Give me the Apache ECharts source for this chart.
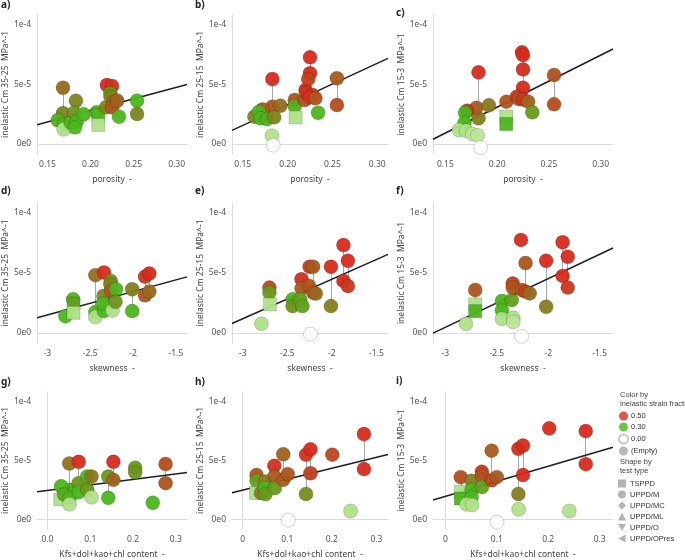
<!DOCTYPE html>
<html>
<head>
<meta charset="utf-8">
<script src="https://cdn.jsdelivr.net/npm/echarts@6/dist/echarts.min.js"></script>
<style>
html, body { margin: 0; padding: 0; background: #fff; }
#chart { width: 685px; height: 560px; }
</style>
</head>
<body>
<div id="chart"></div>
<script>
// point = [x, inelastic Cm (MPa^-1), inelastic strain fraction, 1 = TSPPD (square)]
// row 1: porosity
const ptsA = [
  [0.168, 4.73e-5, 0.41], [0.168, 2.58e-5, 0.37], [0.162, 2.00e-5, 0.31], [0.169, 1.62e-5, 0.30],
  [0.1688, 1.23e-5, 0.15], [0.177, 1.80e-5, 0.30], [0.183, 3.64e-5, 0.37], [0.181, 2.63e-5, 0.35],
  [0.184, 1.88e-5, 0.30], [0.182, 1.40e-5, 0.30], [0.192, 2.50e-5, 0.30], [0.207, 2.66e-5, 0.31],
  [0.209, 2.44e-5, 0.30, 1], [0.209, 1.60e-5, 0.15, 1], [0.218, 3.08e-5, 0.37], [0.219, 4.96e-5, 0.50],
  [0.225, 4.87e-5, 0.49], [0.223, 4.26e-5, 0.34], [0.2232, 3.98e-5, 0.37], [0.227, 3.56e-5, 0.42],
  [0.225, 3.08e-5, 0.44], [0.231, 3.64e-5, 0.42], [0.233, 2.30e-5, 0.30], [0.254, 3.64e-5, 0.30],
  [0.254, 2.52e-5, 0.37]
];
const ptsB = [
  [0.183, 5.46e-5, 0.50], [0.183, 3.14e-5, 0.44], [0.172, 2.90e-5, 0.43], [0.192, 3.22e-5, 0.40],
  [0.163, 2.30e-5, 0.37], [0.168, 2.70e-5, 0.30], [0.170, 2.16e-5, 0.30], [0.177, 2.10e-5, 0.31],
  [0.185, 2.24e-5, 0.37], [0.1825, 0.70e-5, 0.15], [0.184, -0.10e-5, 0.0], [0.208, 3.70e-5, 0.44],
  [0.208, 3.20e-5, 0.31], [0.209, 2.24e-5, 0.15, 1], [0.219, 3.70e-5, 0.43], [0.220, 4.54e-5, 0.49],
  [0.225, 7.28e-5, 0.50], [0.225, 5.94e-5, 0.50], [0.223, 5.46e-5, 0.47], [0.221, 4.31e-5, 0.49],
  [0.228, 4.12e-5, 0.47], [0.225, 3.92e-5, 0.49], [0.231, 3.84e-5, 0.44], [0.234, 2.63e-5, 0.30],
  [0.255, 5.52e-5, 0.43], [0.255, 3.28e-5, 0.45]
];
const ptsC = [
  [0.182, 6.02e-5, 0.50], [0.182, 2.16e-5, 0.38], [0.180, 3.05e-5, 0.43], [0.171, 2.80e-5, 0.49],
  [0.192, 3.25e-5, 0.39], [0.169, 2.63e-5, 0.30], [0.1685, 1.80e-5, 0.30], [0.163, 1.18e-5, 0.15],
  [0.170, 1.12e-5, 0.15], [0.176, 0.84e-5, 0.13], [0.181, 0.73e-5, 0.13], [0.184, -0.30e-5, 0.0],
  [0.209, 3.56e-5, 0.44], [0.2088, 2.30e-5, 0.15, 1], [0.2088, 1.68e-5, 0.30, 1], [0.224, 7.70e-5, 0.50],
  [0.225, 7.48e-5, 0.50], [0.225, 6.27e-5, 0.50], [0.225, 4.73e-5, 0.50], [0.219, 3.98e-5, 0.48],
  [0.221, 3.78e-5, 0.44], [0.225, 3.75e-5, 0.49], [0.230, 3.56e-5, 0.42], [0.234, 2.66e-5, 0.34],
  [0.255, 5.80e-5, 0.44], [0.255, 3.33e-5, 0.45]
];
// row 2: skewness
const ptsD = [
  [-2.79, 1.40e-5, 0.30], [-2.70, 2.80e-5, 0.30], [-2.695, 2.45e-5, 0.33, 1], [-2.695, 1.68e-5, 0.15, 1],
  [-2.44, 4.82e-5, 0.40], [-2.44, 1.74e-5, 0.30], [-2.44, 1.32e-5, 0.15], [-2.34, 5.04e-5, 0.50],
  [-2.34, 1.82e-5, 0.30], [-2.345, 3.08e-5, 0.37], [-2.35, 2.46e-5, 0.30], [-2.26, 4.34e-5, 0.35],
  [-2.265, 4.06e-5, 0.37], [-2.255, 3.50e-5, 0.43], [-2.20, 3.64e-5, 0.30], [-2.24, 1.88e-5, 0.15],
  [-2.205, 2.60e-5, 0.35], [-2.01, 3.64e-5, 0.38], [-2.01, 1.82e-5, 0.30], [-1.86, 4.70e-5, 0.48],
  [-1.81, 4.96e-5, 0.50], [-1.86, 3.14e-5, 0.44], [-1.81, 3.45e-5, 0.41]
];
const ptsE = [
  [-2.79, 0.76e-5, 0.15], [-2.70, 3.78e-5, 0.45], [-2.70, 3.36e-5, 0.34], [-2.695, 2.38e-5, 0.15, 1],
  [-2.44, 2.80e-5, 0.30], [-2.44, 2.24e-5, 0.35], [-2.34, 4.48e-5, 0.49], [-2.34, 3.72e-5, 0.43],
  [-2.355, 2.80e-5, 0.33], [-2.33, 2.24e-5, 0.33], [-2.25, 5.52e-5, 0.47], [-2.21, 5.52e-5, 0.43],
  [-2.255, 3.92e-5, 0.44], [-2.21, 3.36e-5, 0.44], [-2.18, 3.28e-5, 0.41], [-2.24, -0.10e-5, 0.0],
  [-2.01, 5.52e-5, 0.50], [-2.01, 2.24e-5, 0.38], [-1.87, 7.34e-5, 0.50], [-1.82, 6.02e-5, 0.50],
  [-1.87, 4.34e-5, 0.50], [-1.82, 3.92e-5, 0.48]
];
const ptsF = [
  [-2.80, 0.76e-5, 0.15], [-2.71, 3.58e-5, 0.44], [-2.71, 2.38e-5, 0.15, 1], [-2.71, 1.82e-5, 0.30, 1],
  [-2.45, 2.66e-5, 0.30], [-2.45, 1.88e-5, 0.30], [-2.45, 1.18e-5, 0.15], [-2.355, 2.74e-5, 0.33],
  [-2.34, 1.26e-5, 0.15], [-2.34, 0.92e-5, 0.13], [-2.345, 4.12e-5, 0.47], [-2.345, 3.78e-5, 0.44],
  [-2.265, 7.76e-5, 0.50], [-2.258, -0.28e-5, 0.0], [-2.22, 5.83e-5, 0.44], [-2.255, 3.58e-5, 0.44],
  [-2.22, 3.45e-5, 0.47], [-2.18, 3.30e-5, 0.41], [-2.02, 6.02e-5, 0.50], [-2.02, 2.18e-5, 0.38],
  [-1.86, 7.56e-5, 0.50], [-1.86, 4.76e-5, 0.50], [-1.81, 6.36e-5, 0.50], [-1.81, 3.78e-5, 0.48]
];
// row 3: Kfs+dol+kao+chl content
const ptsG = [
  [0.051, 4.75e-5, 0.40], [0.073, 4.89e-5, 0.50], [0.051, 2.50e-5, 0.30], [0.073, 3.07e-5, 0.35],
  [0.032, 2.80e-5, 0.30], [0.030, 1.68e-5, 0.15, 1], [0.039, 2.10e-5, 0.32], [0.052, 1.82e-5, 0.30],
  [0.0515, 1.26e-5, 0.15], [0.0735, 2.32e-5, 0.30], [0.093, 3.63e-5, 0.30], [0.093, 2.50e-5, 0.34],
  [0.103, 3.63e-5, 0.39], [0.103, 1.87e-5, 0.15], [0.142, 3.63e-5, 0.34], [0.142, 1.82e-5, 0.30],
  [0.154, 4.89e-5, 0.50], [0.154, 3.35e-5, 0.42], [0.205, 4.39e-5, 0.34], [0.205, 4.00e-5, 0.35],
  [0.246, 1.40e-5, 0.30], [0.276, 4.70e-5, 0.45], [0.276, 3.07e-5, 0.44]
];
const ptsH = [
  [0.031, 3.77e-5, 0.44], [0.031, 3.27e-5, 0.33], [0.030, 2.23e-5, 0.15, 1], [0.041, 2.23e-5, 0.38],
  [0.050, 3.20e-5, 0.38], [0.050, 2.65e-5, 0.30], [0.051, 2.15e-5, 0.34], [0.071, 4.55e-5, 0.49],
  [0.071, 3.63e-5, 0.43], [0.072, 2.65e-5, 0.34], [0.091, 5.53e-5, 0.42], [0.091, 3.35e-5, 0.43],
  [0.101, 3.83e-5, 0.44], [0.102, -0.08e-5, 0.0], [0.142, 5.50e-5, 0.49], [0.152, 5.95e-5, 0.50],
  [0.152, 3.91e-5, 0.47], [0.142, 2.15e-5, 0.36], [0.201, 5.50e-5, 0.46], [0.242, 0.70e-5, 0.15],
  [0.272, 7.26e-5, 0.50], [0.272, 4.27e-5, 0.50]
];
const ptsI = [
  [0.030, 3.58e-5, 0.45], [0.030, 2.32e-5, 0.15, 1], [0.030, 1.76e-5, 0.30, 1], [0.051, 3.27e-5, 0.38],
  [0.051, 2.51e-5, 0.30], [0.051, 1.87e-5, 0.30], [0.041, 1.26e-5, 0.15], [0.052, 1.20e-5, 0.15],
  [0.071, 4.05e-5, 0.48], [0.071, 3.72e-5, 0.44], [0.071, 2.74e-5, 0.33], [0.090, 5.84e-5, 0.43],
  [0.090, 3.32e-5, 0.46], [0.100, 3.58e-5, 0.43], [0.1005, -0.25e-5, 0.0], [0.142, 6.00e-5, 0.49],
  [0.151, 6.28e-5, 0.50], [0.151, 3.77e-5, 0.50], [0.142, 2.15e-5, 0.38], [0.1425, 0.84e-5, 0.15],
  [0.202, 7.74e-5, 0.50], [0.241, 0.70e-5, 0.15], [0.273, 7.51e-5, 0.50], [0.273, 4.69e-5, 0.50]
];

// regression lines [intercept, slope]
const fitA = [-1.062e-5, 1.943e-4];
const fitB = [-3.66e-5, 3.48e-4];
const fitC = [-5.62e-5, 4.36e-4];
const fitD = [7.35e-5, 1.95e-5];
const fitE = [11.08e-5, 3.30e-5];
const fitF = [12.65e-5, 4.06e-5];
const fitG = [2.45e-5, 4.68e-5];
const fitH = [2.47e-5, 9.31e-5];
const fitI = [1.94e-5, 1.284e-4];

const porosityTicks = [0.15, 0.20, 0.25, 0.30];
const skewTicks = [-3, -2.5, -2, -1.5];
const contentTicks = [0, 0.1, 0.2, 0.3];
const cmTicks = [0, 5e-5, 1e-4];

const cmNames = ['inelastic Cm 35-25  MPa^-1', 'inelastic Cm 25-15  MPa^-1', 'inelastic Cm 15-3  MPa^-1'];
const colorNames = ['0.50', '0.30', '0.00', '(Empty)'];
const shapeNames = ['TSPPD', 'UPPD/M', 'UPPD/MC', 'UPPD/ML', 'UPPD/O', 'UPPD/OPres'];
const panelLetters = ['a)', 'b)', 'c)', 'd)', 'e)', 'f)', 'g)', 'h)', 'i)'];

const panels = [ptsA, ptsB, ptsC, ptsD, ptsE, ptsF, ptsG, ptsH, ptsI];
const fits = [fitA, fitB, fitC, fitD, fitE, fitF, fitG, fitH, fitI];

const FONT = 'Noto Sans';
const LEG_FONT = 'Liberation Sans';
const cols = [{ left: 36, width: 151, gap: 24 }, { left: 232, width: 156, gap: 27 }, { left: 433, width: 180, gap: 27 }];
const rows = [{ top: 15, height: 139 }, { top: 203, height: 140 }, { top: 392, height: 140 }];
const letterPos = [[1, 0], [195, 0], [396, 8], [1, 186], [195, 186], [396, 186], [1, 377], [195, 377], [396, 376]];

const rowX = [
  { name: 'porosity  -', min: 0.138, max: 0.312, ticks: porosityTicks, fmt: (v, c) => v.toFixed(2) },
  { name: 'skewness  -', min: -3.12, max: -1.37, ticks: skewTicks, fmt: (v, c) => String(v) },
  { name: 'Kfs+dol+kao+chl content  -', min: -0.024, max: 0.326, ticks: contentTicks,
    fmt: (v, c) => c === 0 ? v.toFixed(1) : String(v) }
];

const grids = [], xAxes = [], yAxes = [], series = [], scatterIdx = [], graphics = [];

panels.forEach((pts, i) => {
  const r = Math.floor(i / 3), c = i % 3;
  const rx = rowX[r];
  grids.push({ left: cols[c].left, width: cols[c].width, top: rows[r].top, height: rows[r].height });
  xAxes.push({
    gridIndex: i, type: 'value', min: rx.min, max: rx.max,
    name: rx.name, nameLocation: 'middle', nameGap: 21,
    nameTextStyle: { fontSize: 8.5, color: '#444', fontFamily: FONT },
    axisLine: { show: true, lineStyle: { color: '#dcdcdc' } },
    axisTick: { show: false }, splitLine: { show: false },
    axisLabel: { customValues: rx.ticks, fontSize: 8.5, color: '#555', margin: 6, fontFamily: FONT,
      formatter: v => rx.fmt(v, c) }
  });
  yAxes.push({
    gridIndex: i, type: 'value', min: -8.4e-6, max: 1.084e-4,
    name: cmNames[c], nameLocation: 'middle', nameGap: cols[c].gap,
    nameTextStyle: { fontSize: 8.5, color: '#444', fontFamily: FONT },
    axisLine: { show: true, lineStyle: { color: '#dcdcdc' } },
    axisTick: { show: false }, splitLine: { show: false },
    axisLabel: { customValues: cmTicks, fontSize: 8.5, color: '#555', margin: 6, fontFamily: FONT,
      formatter: v => v.toExponential(0).replace('+', '') }
  });

  // vertical links between specimens of the same sample (same x)
  const groups = {};
  pts.forEach(p => {
    const k = String(p[0]);
    if (!groups[k]) groups[k] = { x: p[0], lo: p[1], hi: p[1], n: 0 };
    groups[k].lo = Math.min(groups[k].lo, p[1]);
    groups[k].hi = Math.max(groups[k].hi, p[1]);
    groups[k].n++;
  });
  const links = Object.values(groups).filter(g => g.n > 1)
    .map(g => ({ coords: [[g.x, g.lo], [g.x, g.hi]] }));
  series.push({
    type: 'lines', coordinateSystem: 'cartesian2d', xAxisIndex: i, yAxisIndex: i,
    data: links, silent: true, z: 1,
    lineStyle: { color: '#a8a8a8', width: 1, opacity: 1 }
  });

  const f = fits[i];
  series.push({
    type: 'line', xAxisIndex: i, yAxisIndex: i, silent: true, z: 2,
    data: [[rx.min, f[0] + f[1] * rx.min], [rx.max, f[0] + f[1] * rx.max]],
    symbol: 'none', lineStyle: { color: '#1e1e1e', width: 1.5 }
  });

  scatterIdx.push(series.length);
  series.push({
    type: 'scatter', xAxisIndex: i, yAxisIndex: i, z: 3,
    data: pts.map(p => [p[0], p[1], p[2], p[3] || 0]),
    symbol: v => v[3] ? 'rect' : 'circle',
    symbolSize: v => v[3] ? 13 : 14,
    itemStyle: { opacity: 0.95, borderColor: 'rgba(0,0,0,0.22)', borderWidth: 0.8 }
  });

  graphics.push({
    type: 'text', x: letterPos[i][0], y: letterPos[i][1],
    style: { text: panelLetters[i], font: 'bold 10px ' + FONT, fill: '#222' }
  });
});

// dummy series feeding the legends
const colorSwatch = ['#d72a1e', '#4cb61c', '#ffffff', '#a6a6a6'];
colorNames.forEach((n, k) => series.push({
  type: 'scatter', name: n, xAxisIndex: 8, yAxisIndex: 8, data: [],
  itemStyle: { color: colorSwatch[k], borderColor: '#bbb', borderWidth: k === 2 ? 1 : 0 }
}));
shapeNames.forEach(n => series.push({
  type: 'scatter', name: n, xAxisIndex: 8, yAxisIndex: 8, data: [], itemStyle: { color: '#a0a0a0' }
}));
const shapeIcons = ['rect', 'circle', 'diamond', 'triangle', 'path://M0,0L10,0L5,9Z', 'path://M9,0L9,10L0,5Z'];

[['Color by', 391], ['inelastic strain fraction', 399.5], ['Shape by', 458], ['test type', 466.5]].forEach(t => {
  graphics.push({ type: 'text', x: 620, y: t[1], style: { text: t[0], font: '7.5px ' + LEG_FONT, fill: '#444' } });
});

const chart = echarts.init(document.getElementById('chart'), null, { renderer: 'canvas' });
chart.setOption({
  animation: false,
  textStyle: { fontFamily: FONT },
  grid: grids, xAxis: xAxes, yAxis: yAxes, series: series,
  visualMap: {
    type: 'continuous', show: false, dimension: 2, min: 0, max: 0.5, seriesIndex: scatterIdx,
    inRange: { color: ['#ffffff', '#cdeeb0', '#93d561', '#4cb61c', '#92701d', '#d72a1e'] }
  },
  legend: [
    { orient: 'vertical', left: 618, top: 411.5, padding: 0, itemWidth: 9, itemHeight: 9, itemGap: 2,
      selectedMode: false,
      textStyle: { fontSize: 7.5, lineHeight: 9, color: '#333', fontFamily: LEG_FONT, padding: [0, 0, 0, -2] },
      data: colorNames.map(n => ({ name: n, icon: 'circle' })) },
    { orient: 'vertical', left: 618, top: 479.5, padding: 0, itemWidth: 8, itemHeight: 8, itemGap: 3,
      selectedMode: false,
      textStyle: { fontSize: 7.5, lineHeight: 8, color: '#333', fontFamily: LEG_FONT, padding: [0, 0, 0, -1] },
      data: shapeNames.map((n, k) => ({ name: n, icon: shapeIcons[k] })) }
  ],
  graphic: graphics
});
</script>
</body>
</html>
